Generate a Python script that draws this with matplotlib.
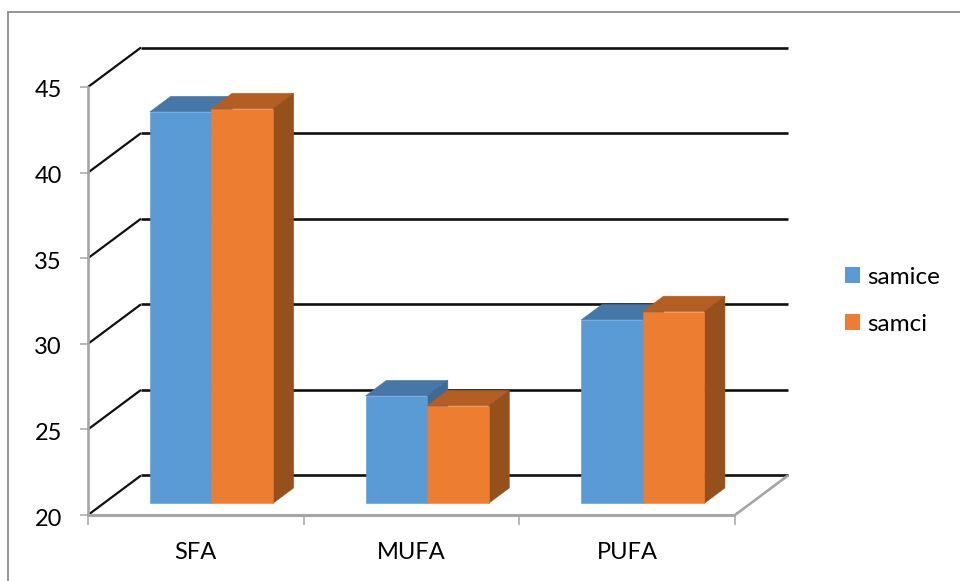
import matplotlib
matplotlib.use("Agg")
import matplotlib.pyplot as plt
from matplotlib.patches import Patch, Polygon
from matplotlib.transforms import ScaledTranslation

categories = ["SFA", "MUFA", "PUFA"]
samice = [42.87, 26.28, 30.72]
samci = [43.05, 25.7, 31.2]
y_ticks = [20, 25, 30, 35, 40, 45]

plt.rcParams["font.family"] = ["Lato", "DejaVu Sans"]

W, H = 960, 581
fig = plt.figure(figsize=(W / 100, H / 100), dpi=100)
ax = fig.add_axes([88 / W, 1 - 515 / H, 647 / W, 428 / H])
ax.set_xlim(0, len(categories))
ax.set_ylim(y_ticks[0], y_ticks[-1])

# oblique shift of the full floor depth, in data units
depth_x = 53 / 647 * len(categories)
depth_y = 39.5 / 428 * (y_ticks[-1] - y_ticks[0])


def project(x, y, d):
    return x + d * depth_x, y + d * depth_y


def line(p, q, color="#111111", lw=1.9, z=1):
    ax.plot([p[0], q[0]], [p[1], q[1]], color=color, lw=lw, clip_on=False,
            solid_capstyle="butt", zorder=z)


# back wall gridlines and the slanted side wall lines
n = len(categories)
for t in y_ticks:
    line(project(0, t, 1), project(n, t, 1), z=1)
    line(project(0, t, 0), project(0, t, 1), lw=1.6, z=1)

# floor edges
line(project(0, 20, 0), project(n, 20, 0), color="#a6a6a6", lw=2.2, z=2)
line(project(n, 20, 0), project(n, 20, 1), color="#a6a6a6", lw=1.9, z=2)

series = [
    (samice, "#5b9bd5", "#4677a6", "#3d6a94", "samice"),
    (samci, "#ed7d31", "#b35e22", "#96501c", "samci"),
]
bar_w = 0.285
d0, d1 = 0.295, 0.685


def add_poly(points, color, z):
    ax.add_patch(Polygon(points, closed=True, facecolor=color, edgecolor=color,
                         lw=0.4, clip_on=False, zorder=z))


for i in range(n):
    for k, (vals, front, top, side, name) in enumerate(series):
        v = vals[i]
        x0 = i + 0.5 - bar_w + k * bar_w
        x1 = x0 + bar_w
        z = 3 + i * 3 + k * 3
        base = 20
        add_poly([project(x0, v, d0), project(x1, v, d0),
                  project(x1, v, d1), project(x0, v, d1)], top, z)
        add_poly([project(x1, base, d0), project(x1, v, d0),
                  project(x1, v, d1), project(x1, base, d1)], side, z + 1)
        add_poly([project(x0, base, d0), project(x1, base, d0),
                  project(x1, v, d0), project(x0, v, d0)], front, z + 2)

for s in ax.spines.values():
    s.set_visible(False)
ax.spines["left"].set_visible(True)
ax.spines["left"].set_color("#a6a6a6")
ax.spines["left"].set_linewidth(1.9)
ax.spines["left"].set_zorder(2)

ax.set_yticks(y_ticks)
ax.set_xticks(range(n + 1))
ax.set_xticklabels([])
ax.tick_params(axis="x", length=7, width=1.1, color="#a6a6a6")
ax.tick_params(axis="y", length=5.8, width=1.1, color="#a6a6a6",
               labelsize=17, pad=13, labelcolor="black")

# nudge the value labels slightly below their ticks
nudge = ScaledTranslation(0, -2 / 100, fig.dpi_scale_trans)
for lab in ax.get_yticklabels():
    lab.set_transform(lab.get_transform() + nudge)

for i, c in enumerate(categories):
    ax.annotate(c, (i + 0.5, 20), xytext=(0, -32), textcoords="offset points",
                ha="center", va="baseline", fontsize=17, color="black",
                annotation_clip=False)

handles = [Patch(facecolor=s[1], label=s[4]) for s in series]
fig.legend(handles=handles, loc="upper left", bbox_to_anchor=(828 / W, 1 - 249.5 / H),
           frameon=False, fontsize=17.5, handlelength=0.62, handleheight=0.62,
           handletextpad=0.29, labelspacing=1.08, borderpad=0.2)

# outer chart frame, open on the right and at the bottom
fig.add_artist(plt.Line2D([8 / W, 8 / W], [0, 1 - 11.5 / H], color="#8c8c8c", lw=1.3))
fig.add_artist(plt.Line2D([8 / W, 1], [1 - 11.5 / H, 1 - 11.5 / H], color="#8c8c8c", lw=1.3))

fig.savefig("out.png", dpi=100)
